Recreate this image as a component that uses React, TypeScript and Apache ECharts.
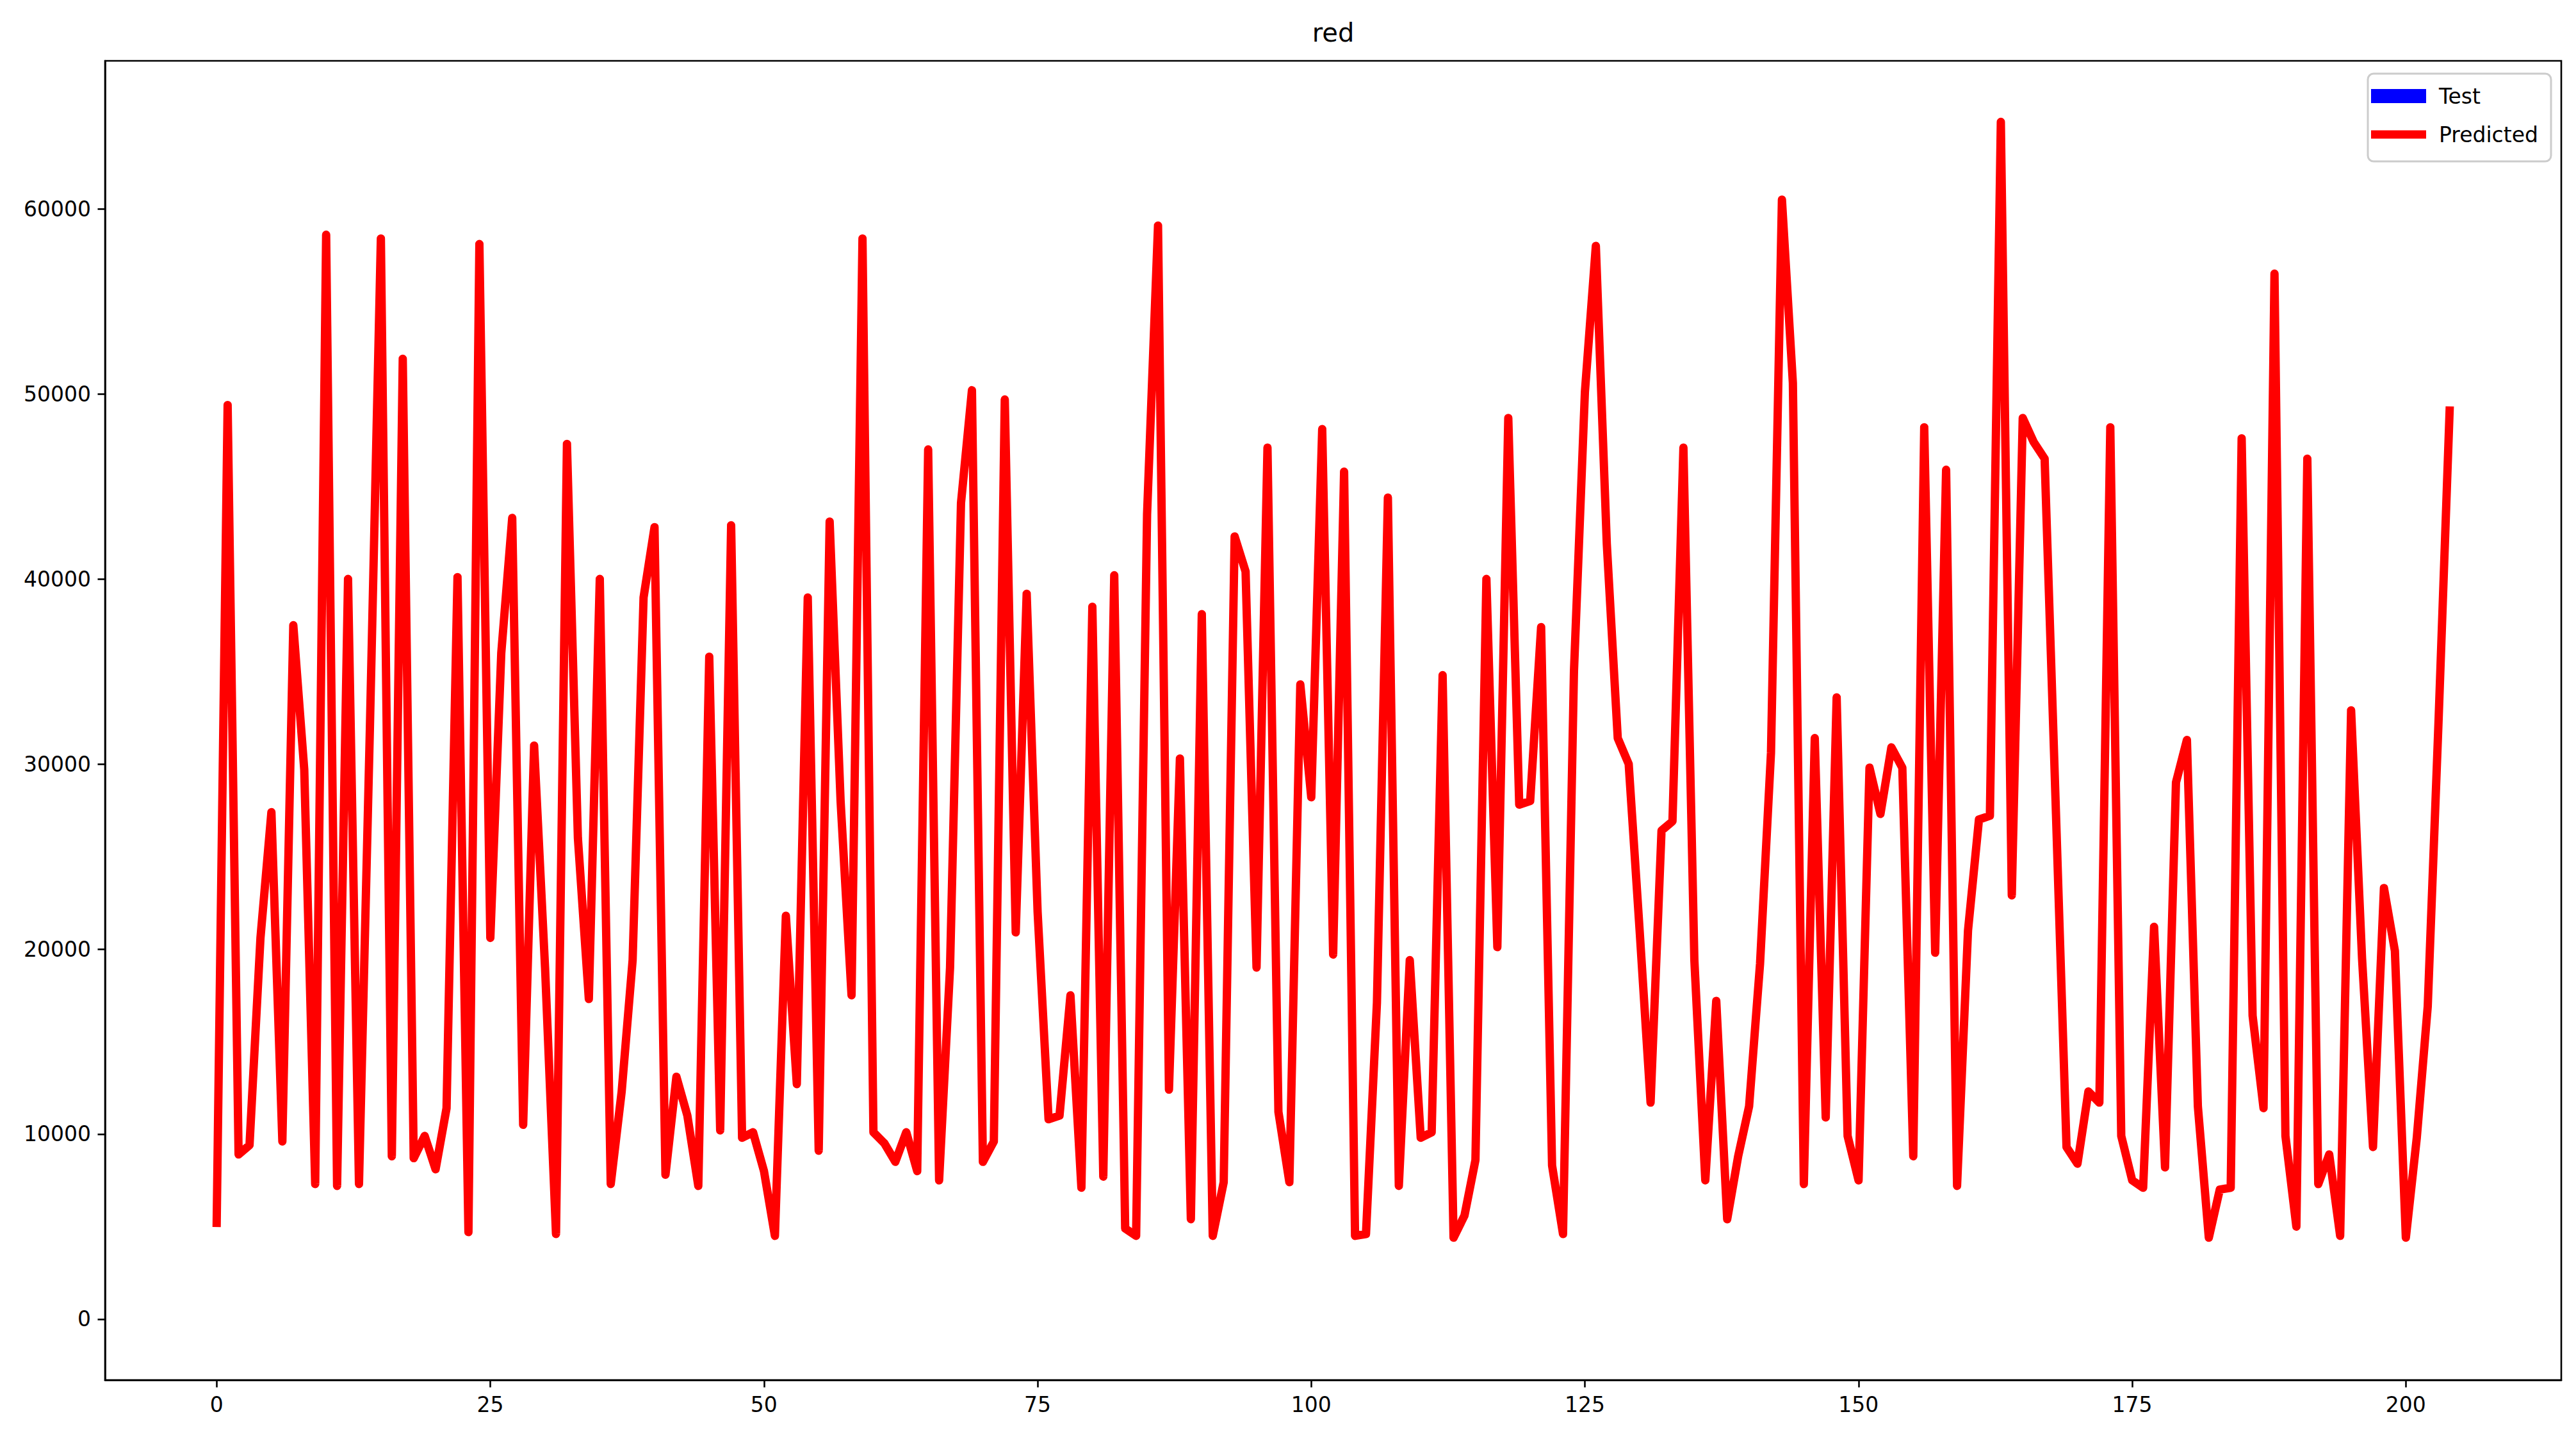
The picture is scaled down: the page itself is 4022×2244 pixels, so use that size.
import React, { useEffect, useRef } from "react";
import * as echarts from "echarts";

const chartTitle = "red";
const seriesNames = ["Test", "Predicted"];
const xTickValues = [0, 25, 50, 75, 100, 125, 150, 175, 200];
const yTickValues = [0, 10000, 20000, 30000, 40000, 50000, 60000];

// Test series: no visible points in the reference (only present in the legend)
const testValues: number[] = [];

const predictedValues: number[] = [
  5200, 49400, 8900, 9400, 20600, 27400, 9600, 37500, 29700, 7300,
  58600, 7200, 40000, 7300, 32000, 58400, 8800, 51900, 8700, 9900,
  8100, 11400, 40100, 4700, 58100, 20600, 36000, 43300, 10500, 31000,
  19000, 4600, 47300, 26000, 17300, 40000, 7300, 12300, 19400, 39000,
  42800, 7800, 13100, 11000, 7200, 35800, 10200, 42900, 9800, 10100,
  8000, 4500, 21800, 12700, 39000, 9100, 43100, 28000, 17500, 58400,
  10100, 9500, 8500, 10100, 8000, 47000, 7500, 19000, 44100, 50200,
  8500, 9600, 49700, 20900, 39200, 22000, 10800, 11000, 17500, 7100,
  38500, 7700, 40200, 4900, 4500, 43500, 59100, 12400, 30300, 5400,
  38100, 4500, 7400, 42300, 40400, 19000, 47100, 11200, 7400, 34300,
  28200, 48100, 19700, 45800, 4500, 4600, 17100, 44400, 7200, 19400,
  9800, 10100, 34800, 4400, 5600, 8600, 40000, 20100, 48700, 27800,
  28000, 37400, 8300, 4600, 35000, 50100, 58000, 41900, 31400, 30000,
  21000, 11700, 26400, 26900, 47100, 19400, 7500, 17200, 5400, 8800,
  11500, 19200, 30600, 60500, 50600, 7300, 31400, 10900, 33600, 9900,
  7500, 29800, 27300, 30900, 29800, 8800, 48200, 19800, 45900, 7200,
  21000, 27000, 27200, 64700, 22900, 48700, 47400, 46500, 28000, 9300,
  8400, 12300, 11700, 48200, 9900, 7500, 7100, 21200, 8200, 29000,
  31300, 11500, 4400, 7000, 7100, 47600, 16400, 11400, 56500, 9900,
  5000, 46500, 7300, 8900, 4500, 32900, 19500, 9300, 23300, 19900,
  4400, 9800, 16900, 32500, 49100,
];

export default function App() {
  const ref = useRef<HTMLDivElement>(null);

  useEffect(() => {
    document.body.style.margin = "0";
    document.body.style.overflow = "hidden";
    const chart = echarts.init(ref.current as HTMLDivElement, null, { renderer: "svg" });
    const font = "DejaVu Sans";
    const gl = 164;
    const gt = 95;
    const gw = 3835;
    const gh = 2060;
    const W = 4022;
    const H = 2244;

    chart.setOption({
      animation: false,
      backgroundColor: "#ffffff",
      textStyle: { fontFamily: font },
      grid: {
        left: gl,
        top: gt,
        right: W - gl - gw,
        bottom: H - gt - gh,
        containLabel: false,
      },
      xAxis: {
        type: "value",
        min: -10.2,
        max: 214.2,
        axisLine: { show: true, onZero: false, lineStyle: { color: "#000", width: 2.6 } },
        axisTick: {
          show: true,
          length: 11.5,
          customValues: xTickValues,
          lineStyle: { color: "#000", width: 2.6 },
        },
        axisLabel: {
          show: true,
          customValues: xTickValues,
          margin: 22,
          fontSize: 33,
          fontFamily: font,
          color: "#000",
          formatter: (v: number) => String(v),
        },
        splitLine: { show: false },
      },
      yAxis: {
        type: "value",
        min: -3290,
        max: 68000,
        axisLine: { show: true, onZero: false, lineStyle: { color: "#000", width: 2.6 } },
        axisTick: {
          show: true,
          length: 11.5,
          customValues: yTickValues,
          lineStyle: { color: "#000", width: 2.6 },
        },
        axisLabel: {
          show: true,
          customValues: yTickValues,
          margin: 22,
          fontSize: 33,
          fontFamily: font,
          color: "#000",
          formatter: (v: number) => String(v),
        },
        splitLine: { show: false },
      },
      series: [
        {
          name: seriesNames[0],
          type: "line",
          data: testValues.map((v, i) => [i, v]),
          showSymbol: false,
          symbol: "none",
          lineStyle: { color: "#0000ff", width: 22, join: "round", cap: "square" },
          z: 2,
        },
        {
          name: seriesNames[1],
          type: "line",
          data: predictedValues.map((v, i) => [i, v]),
          showSymbol: false,
          symbol: "none",
          lineStyle: { color: "#ff0000", width: 13, join: "round", cap: "square" },
          z: 3,
        },
      ],
      graphic: [
        {
          type: "rect",
          z: 100,
          silent: true,
          shape: { x: gl, y: gt, width: gw, height: gh },
          style: { fill: "none", stroke: "#000", lineWidth: 2.6 },
        },
        {
          type: "text",
          z: 100,
          x: gl + gw / 2,
          y: 51,
          style: {
            text: chartTitle,
            fontSize: 40,
            fontFamily: font,
            fill: "#000",
            align: "center",
            verticalAlign: "middle",
          },
        },
        {
          type: "rect",
          z: 101,
          shape: { x: 3697, y: 115, width: 286, height: 137, r: 9 },
          style: { fill: "rgba(255,255,255,0.8)", stroke: "#cccccc", lineWidth: 3 },
        },
        {
          type: "rect",
          z: 102,
          shape: { x: 3702, y: 139, width: 86, height: 22 },
          style: { fill: "#0000ff" },
        },
        {
          type: "rect",
          z: 102,
          shape: { x: 3702, y: 203.5, width: 86, height: 13 },
          style: { fill: "#ff0000" },
        },
        {
          type: "text",
          z: 102,
          x: 3808,
          y: 150,
          style: {
            text: seriesNames[0],
            fontSize: 33,
            fontFamily: font,
            fill: "#000",
            align: "left",
            verticalAlign: "middle",
          },
        },
        {
          type: "text",
          z: 102,
          x: 3808,
          y: 210,
          style: {
            text: seriesNames[1],
            fontSize: 33,
            fontFamily: font,
            fill: "#000",
            align: "left",
            verticalAlign: "middle",
          },
        },
      ],
    });

    return () => {
      chart.dispose();
    };
  }, []);

  return <div ref={ref} style={{ width: "4022px", height: "2244px" }} />;
}
